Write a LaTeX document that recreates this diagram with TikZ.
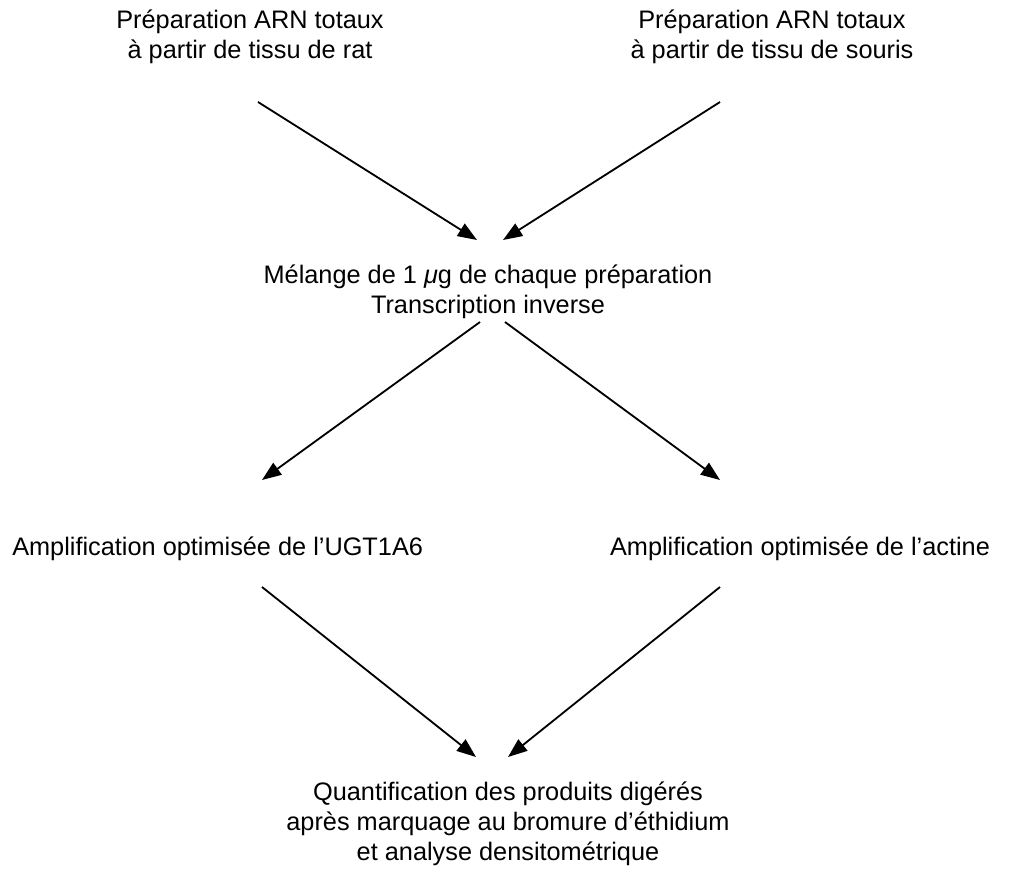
\documentclass[tikz,border=0pt]{standalone}
\usepackage{fontspec}
\setmainfont{Liberation Sans}
\usetikzlibrary{arrows.meta}

\begin{document}
\begin{tikzpicture}[x=0.025cm, y=-0.025cm,
    label/.style={font=\fontsize{18}{21.3}\selectfont, align=center, inner sep=0pt},
    flow/.style={line width=1.3pt, -{Triangle[length=4.8mm, width=3.6mm]}}]

    % Page frame (keeps the margins of the picture)
    \useasboundingbox (0,0) rectangle (1010,868);

    % ==========================================
    % TEXT NODES (base = baseline of last line)
    % ==========================================
    \node[label, anchor=base] (rat) at (250,58)
        {Préparation ARN totaux\\à partir de tissu de rat};
    \node[label, anchor=base] (souris) at (772,58)
        {Préparation ARN totaux\\à partir de tissu de souris};
    \node[label, anchor=base] (melange) at (488,313)
        {Mélange de 1 {\itshape μ}g de chaque préparation\\Transcription inverse};
    \node[label, anchor=base west] (ugt) at (12,555)
        {Amplification optimisée de l'UGT1A6};
    \node[label, anchor=base] (actine) at (800,555)
        {Amplification optimisée de l'actine};
    \node[label, anchor=base] (quant) at (508,860)
        {Quantification des produits digérés\\après marquage au bromure d'éthidium\\et analyse densitométrique};

    % ==========================================
    % ARROW END POINTS
    % ==========================================
    \coordinate (ratS) at (258,102);
    \coordinate (ratE) at (477,240);
    \coordinate (sourisS) at (720,102);
    \coordinate (sourisE) at (503,240);
    \coordinate (melL) at (480,322);
    \coordinate (ugtE) at (262,480);
    \coordinate (melR) at (505,322);
    \coordinate (actineE) at (720,480);
    \coordinate (ugtS) at (262,587);
    \coordinate (quantL) at (476,757);
    \coordinate (actineS) at (720,587);
    \coordinate (quantR) at (508,757);

    % Arrows
    \draw[flow] (ratS) -- (ratE);
    \draw[flow] (sourisS) -- (sourisE);
    \draw[flow] (melL) -- (ugtE);
    \draw[flow] (melR) -- (actineE);
    \draw[flow] (ugtS) -- (quantL);
    \draw[flow] (actineS) -- (quantR);

\end{tikzpicture}
\end{document}
